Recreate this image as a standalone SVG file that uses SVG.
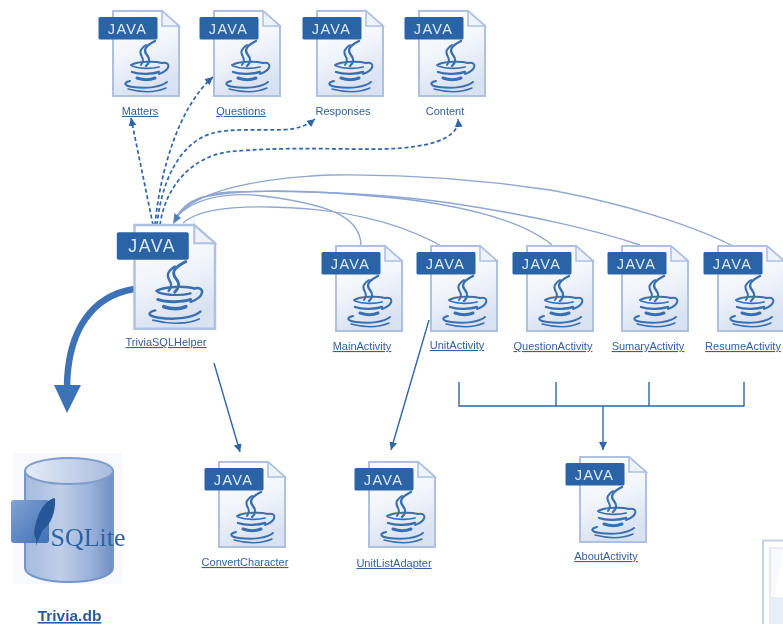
<svg xmlns="http://www.w3.org/2000/svg" width="783" height="624" viewBox="0 0 783 624">
<style>
.lbl{font-family:"Liberation Sans",Arial,sans-serif;font-size:11px;fill:#35609f;text-anchor:middle;text-decoration:underline}
.plain{text-decoration:none}
.jv{font-family:"Liberation Sans",Arial,sans-serif;font-size:14.5px;fill:#dfe9f5;text-anchor:middle;letter-spacing:1.3px}
.dash{fill:none;stroke:#2f66a8;stroke-width:1.7;stroke-dasharray:4 2.6;marker-end:url(#ad)}
.soft{fill:none;stroke:#8ea6d2;stroke-width:1.4}
.solid{fill:none;stroke:#2f66a8;stroke-width:1.4}
.ln{marker-end:url(#as)}
</style>
<defs>
<filter id="b" x="-5%" y="-5%" width="110%" height="110%"><feGaussianBlur stdDeviation="0.4"/></filter>
<linearGradient id="dg" x1="0" y1="0" x2="0.3" y2="1"><stop offset="0" stop-color="#ffffff"/><stop offset="0.55" stop-color="#f1f5fb"/><stop offset="1" stop-color="#d9e2f2"/></linearGradient>
<linearGradient id="cy" x1="0" y1="0" x2="1" y2="0"><stop offset="0" stop-color="#a4bade"/><stop offset="0.4" stop-color="#c0cfe9"/><stop offset="0.75" stop-color="#9ab1d9"/><stop offset="1" stop-color="#6f8fc4"/></linearGradient>
<linearGradient id="el" x1="0" y1="0" x2="1" y2="0"><stop offset="0" stop-color="#e6ecf7"/><stop offset="1" stop-color="#a8bcdf"/></linearGradient>
<linearGradient id="sq" x1="0" y1="0" x2="1" y2="1"><stop offset="0" stop-color="#84a2d3"/><stop offset="1" stop-color="#3f70b4"/></linearGradient>
<marker id="ad" markerUnits="userSpaceOnUse" markerWidth="10" markerHeight="10" refX="8" refY="4" orient="auto"><path d="M0 0L8 4L0 8Z" fill="#2f66a8"/></marker>
<marker id="as" markerUnits="userSpaceOnUse" markerWidth="10" markerHeight="10" refX="8" refY="4" orient="auto"><path d="M0 0L8 4L0 8Z" fill="#2f66a8"/></marker>
<g id="icon">
<path d="M0 0H49L66 15V85H0Z" fill="url(#dg)" stroke="#aec1e2" stroke-width="2"/>
<path d="M49 0V15H66Z" fill="#eef2f9" stroke="#aec1e2" stroke-width="1.600"/>
<rect x="-14.500" y="6" width="59" height="22.500" rx="1.500" fill="#2c63a6"/>
<g fill="none" stroke="#3a70b0" stroke-linecap="round">
<path d="M42 30C32 35 30 39 34 44C38 49 36 52 33 55" stroke-width="2.400"/>
<path d="M33 34C27 38 26 41 29 46C31 49 30 51 28 54" stroke-width="2"/>
<path d="M18 54C25 50 42 50 49 52" stroke-width="2"/>
<path d="M19 55C27 58 39 58 46 56" stroke-width="1.800"/>
<path d="M19 61C27 64 40 63 46 61" stroke-width="2.400"/>
<path d="M24 67C30 69 37 69 42 67" stroke-width="3"/>
<path d="M49 52C58 50 58 59 46 63" stroke-width="2"/>
<path d="M17 70C9 72 12 75 20 76C34 78 48 76 54 71" stroke-width="2"/>
<path d="M15 78C30 82 44 81 53 77" stroke-width="1.400"/>
</g>
</g>
</defs>
<rect width="783" height="624" fill="#ffffff"/>
<g filter="url(#b)">
<g id="connectors">
<path class="dash" d="M153 225L131 118"/>
<path class="dash" d="M155 225C160 170 180 105 213 77"/>
<path class="dash" d="M157 225C161 185 178 140 217 132C245 127 285 133 300 127C306 125 310 123 315 119"/>
<path class="dash" d="M160 225C165 188 190 158 227 152C280 146 350 150 383 149C425 148 460 140 458 119"/>
<path class="soft" d="M361 246C361 215 325 204 263 196C225 191 190 200 176 218"/>
<path class="soft" d="M445 248C400 222 340 208 270 207C225 206 195 212 183 223"/>
<path class="soft" d="M552 245C520 218 450 203 383 197C310 190 240 188 200 198C188 202 180 210 176 218"/>
<path class="soft" d="M640 245C580 225 510 212 450 203C380 193 290 190 230 192C200 194 183 205 176 218"/>
<path class="soft" d="M733 246C690 224 620 203 550 190C470 178 400 174 330 175C260 178 195 190 176 218"/>
<path d="M173 224L174.500 213L181 218Z" fill="#4f7cbc"/>
<path d="M134 289C92 296 68 330 67 386" fill="none" stroke="#3d72b6" stroke-width="6.500"/>
<path d="M54 385H81L67 413Z" fill="#3d72b6"/>
<path class="solid ln" d="M214 363L240 452"/>
<path class="solid ln" d="M429 320L391 450"/>
<path class="solid" d="M459 382V406H744V382M556 382V406M649 382V406"/>
<path class="solid ln" d="M603 406V450"/>
</g>
<g id="matters"><g transform="translate(113 11)"><use href="#icon"/><text class="jv" x="14.500" y="22.500">JAVA</text></g><text class="lbl" x="140" y="115">Matters</text></g>
<g id="questions"><g transform="translate(214 11)"><use href="#icon"/><text class="jv" x="14.500" y="22.500">JAVA</text></g><text class="lbl" x="241" y="115">Questions</text></g>
<g id="responses"><g transform="translate(317 11)"><use href="#icon"/><text class="jv" x="14.500" y="22.500">JAVA</text></g><text class="lbl plain" x="343" y="115">Responses</text></g>
<g id="content"><g transform="translate(419 11)"><use href="#icon"/><text class="jv" x="14.500" y="22.500">JAVA</text></g><text class="lbl plain" x="445" y="115">Content</text></g>
<g id="triviasqlhelper"><g transform="translate(134.500 225) scale(1.220)"><use href="#icon"/><text class="jv" x="14.500" y="22.500">JAVA</text></g><text class="lbl" x="166" y="346">TriviaSQLHelper</text></g>
<g id="mainactivity"><g transform="translate(336 246)"><use href="#icon"/><text class="jv" x="14.500" y="22.500">JAVA</text></g><text class="lbl" x="362" y="350">MainActivity</text></g>
<g id="unitactivity"><g transform="translate(431 246)"><use href="#icon"/><text class="jv" x="14.500" y="22.500">JAVA</text></g><text class="lbl" x="457" y="349">UnitActivity</text></g>
<g id="questionactivity"><g transform="translate(527 246)"><use href="#icon"/><text class="jv" x="14.500" y="22.500">JAVA</text></g><text class="lbl" x="553" y="350">QuestionActivity</text></g>
<g id="sumaryactivity"><g transform="translate(622 246)"><use href="#icon"/><text class="jv" x="14.500" y="22.500">JAVA</text></g><text class="lbl" x="648" y="350">SumaryActivity</text></g>
<g id="resumeactivity"><g transform="translate(718 246)"><use href="#icon"/><text class="jv" x="14.500" y="22.500">JAVA</text></g><text class="lbl" x="743" y="350">ResumeActivity</text></g>
<g id="convertcharacter"><g transform="translate(219 462)"><use href="#icon"/><text class="jv" x="14.500" y="22.500">JAVA</text></g><text class="lbl" x="245" y="566">ConvertCharacter</text></g>
<g id="unitlistadapter"><g transform="translate(369 462)"><use href="#icon"/><text class="jv" x="14.500" y="22.500">JAVA</text></g><text class="lbl" x="394" y="567">UnitListAdapter</text></g>
<g id="aboutactivity"><g transform="translate(580 457)"><use href="#icon"/><text class="jv" x="14.500" y="22.500">JAVA</text></g><text class="lbl" x="606" y="560">AboutActivity</text></g>
<g id="triviadb">
<rect x="13" y="453" width="109" height="131" fill="#f7f9fc"/>
<path d="M25 471V568C25 576 45 582 69 582S113 576 113 568V471Z" fill="url(#cy)" stroke="#7395c8" stroke-width="2"/>
<ellipse cx="69" cy="471" rx="44" ry="13" fill="url(#el)" stroke="#7f9dcc" stroke-width="2"/>
<rect x="11" y="500" width="38" height="43" rx="3" fill="url(#sq)"/>
<path d="M34 534C36 515 44 500 55 498C56 512 51 524 43 530C41 534 38 540 36 546C37 541 36 538 34 534Z" fill="#255796"/>
<text x="88" y="546" font-family="'Liberation Serif','Times New Roman',serif" font-size="26" fill="#2d63a5" text-anchor="middle">SQLite</text>
<text x="69.500" y="621" font-family="'Liberation Sans',Arial,sans-serif" font-size="15.500" font-weight="bold" fill="#2a5c9c" text-anchor="middle" text-decoration="underline">Trivia.db</text>
</g>
<g id="partial">
<path d="M783 540.500H763V624" fill="none" stroke="#c6d2ea" stroke-width="2"/>
<path d="M783 548H770V624" fill="#f8fafd" stroke="#d4ddef" stroke-width="1.200"/>
<path d="M770 597H783V624H770Z" fill="#e8eef8"/>
</g>
</g>
</svg>
